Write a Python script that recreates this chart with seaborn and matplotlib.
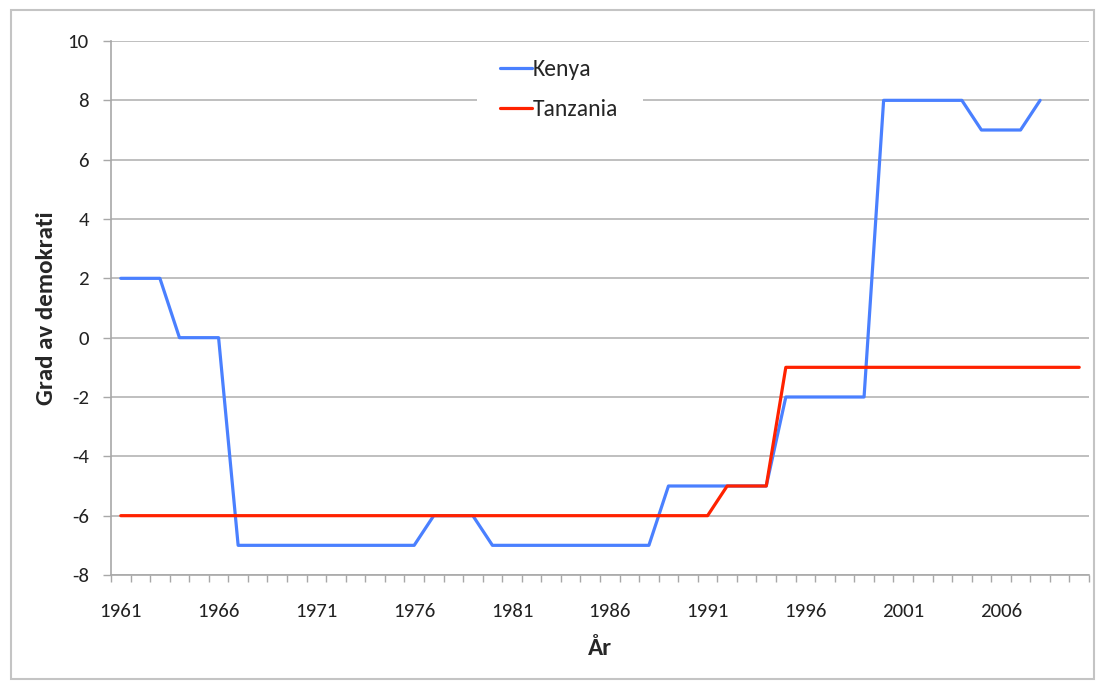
#!/usr/bin/python

# Grad av demokrati i Kenya och Tanzania, 1961-2010

import numpy as np
import pandas as pd
import seaborn as sns
import matplotlib
import matplotlib.pyplot as plt
from matplotlib import font_manager
from matplotlib.patches import Rectangle

kenya_years = list(range(1961, 2009))
kenya_values = [2, 2, 2, 0, 0, 0,
                -7, -7, -7, -7, -7, -7, -7, -7, -7, -7,
                -6, -6, -6,
                -7, -7, -7, -7, -7, -7, -7, -7, -7,
                -5, -5, -5, -5, -5, -5,
                -2, -2, -2, -2, -2,
                8, 8, 8, 8, 8,
                7, 7, 7,
                8]

tanzania_years = list(range(1961, 2011))
tanzania_values = [-6] * 31 + [-5, -5, -5] + [-1] * 16

label_years = list(range(1961, 2010, 5))
y_ticks = list(range(-8, 11, 2))


def pick_font():
    names = {f.name for f in font_manager.fontManager.ttflist}
    for name in ["Carlito", "Liberation Sans Narrow", "Open Sans", "Liberation Sans"]:
        if name in names:
            return name
    return "DejaVu Sans"


def main():
    sns.set_style("white")
    font = pick_font()
    matplotlib.rcParams['font.family'] = [font, "DejaVu Sans"]
    matplotlib.rcParams['font.size'] = 15

    df = pd.concat([
        pd.DataFrame({"year": kenya_years, "value": kenya_values, "land": "Kenya"}),
        pd.DataFrame({"year": tanzania_years, "value": tanzania_values, "land": "Tanzania"}),
    ], ignore_index=True)

    fig = plt.figure(figsize=(10.98, 6.82), dpi=100)
    W, H = 1098, 682
    ax = fig.add_axes([111 / W, 1 - 575 / H, (1089 - 111) / W, (575 - 41) / H])

    sns.lineplot(data=df, x="year", y="value", hue="land",
                 palette={"Kenya": "#4A80FF", "Tanzania": "#FF2200"},
                 linewidth=2.3, ax=ax, legend=False, zorder=4)

    ax.set_xlim(1960.5, 2010.5)
    ax.set_ylim(-8, 10)
    ax.set_yticks(y_ticks)
    ax.set_yticklabels([str(v) for v in y_ticks])
    ax.set_xticks(label_years)
    ax.set_xticklabels([str(y) for y in label_years])
    ax.set_xticks(np.arange(1960.5, 2011, 1.0), minor=True)
    ax.tick_params(axis="x", which="major", length=0, pad=20, labelsize=15, colors="#222222")
    ax.tick_params(axis="x", which="minor", direction="out", length=5, width=1.0, color="#A8A8A8")
    ax.tick_params(axis="y", which="major", direction="out", length=6, width=1.0,
                   color="#A8A8A8", pad=10, labelsize=15, labelcolor="#222222")
    ax.xaxis.set_tick_params(bottom=True, which="both")
    ax.yaxis.set_tick_params(left=True)

    ax.grid(axis="y", color="#B4B4B4", linewidth=1.2, zorder=0)
    ax.set_axisbelow(True)
    for side in ["top", "right"]:
        ax.spines[side].set_visible(False)
    for side in ["left", "bottom"]:
        ax.spines[side].set_color("#A8A8A8")
        ax.spines[side].set_linewidth(1.2)

    ax.set_xlabel("År", fontweight="bold", fontsize=18, labelpad=13)
    ax.set_ylabel("Grad av demokrati", fontweight="bold", fontsize=18, labelpad=8)

    # white box behind the legend, covering the gridlines
    ax.add_patch(Rectangle((477 / W, 1 - 125 / H), (643 - 477) / W, (125 - 43) / H,
                           transform=fig.transFigure, facecolor="white",
                           edgecolor="none", zorder=2))

    handles = [plt.Line2D([], [], color="#4A80FF", linewidth=2.3),
               plt.Line2D([], [], color="#FF2200", linewidth=2.3)]
    ax.legend(handles, ["Kenya", "Tanzania"], loc="upper left",
              bbox_to_anchor=(500 / W, 1 - 59 / H), bbox_transform=fig.transFigure,
              borderaxespad=0, borderpad=0, handlelength=1.35, handletextpad=0.05,
              labelspacing=0.8, frameon=False, fontsize=17)

    fig.patches.append(Rectangle((11 / W, 1 - 679 / H), (1094 - 11) / W, (679 - 10) / H,
                                 transform=fig.transFigure, fill=False,
                                 edgecolor="#C4C4C4", linewidth=1.5))

    fig.savefig("out.png", dpi=100)


if __name__ == "__main__":
    main()
